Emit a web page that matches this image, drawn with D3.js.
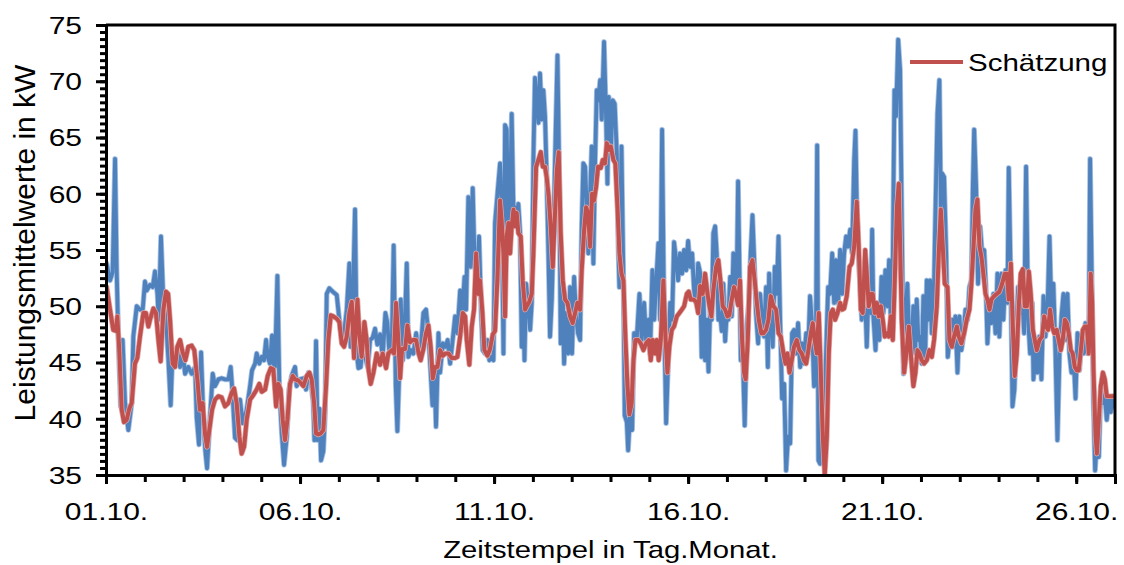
<!DOCTYPE html>
<html>
<head>
<meta charset="utf-8">
<script src="https://cdn.jsdelivr.net/npm/d3@7"></script>
<style>
  body { margin: 0; background: #fff; }
  text { font-family: "Liberation Sans", Arial, sans-serif; fill: #000; }
</style>
</head>
<body>
<div id="chart"></div>
<script>
// Messwerte (Stunden seit 01.10. 00:00, kW)
var measTime = [0.4,2.5,4.1,5.6,6.6,7.6,9.1,10.3,11.8,13.8,15.9,16.9,19.0,21.0,22.7,24.1,25.2,27.2,28.9,30.3,31.8,32.6,34.0,35.5,37.1,38.6,40.0,41.2,42.7,44.1,45.8,47.4,48.9,50.9,53.0,55.1,56.1,57.5,58.8,60.2,61.4,62.5,64.3,66.0,67.4,69.5,71.5,73.6,75.7,77.1,78.1,79.8,81.2,82.9,84.5,87.0,89.1,90.3,92.2,93.2,94.8,96.3,97.7,99.0,100.0,101.4,102.7,103.7,104.5,106.0,107.2,108.7,110.1,111.8,113.2,114.8,116.9,117.9,
  120.0,122.1,123.7,125.2,126.6,128.2,128.9,129.9,130.9,132.0,133.0,134.4,135.5,136.5,138.1,140.2,142.7,144.3,145.8,147.2,148.9,150.5,151.3,152.6,154.0,155.1,156.1,157.5,158.8,160.2,161.9,163.3,164.9,166.4,167.8,169.5,171.1,172.8,174.0,175.3,176.7,177.9,179.2,180.2,181.2,182.3,183.5,184.5,186.0,187.0,188.5,190.1,191.8,193.2,194.6,196.3,197.9,199.4,200.8,201.9,203.1,204.1,205.6,206.6,208.3,209.9,211.3,212.8,214.4,215.9,217.3,219.0,220.4,221.7,222.7,224.1,225.6,226.8,227.8,229.3,230.7,232.0,233.0,234.4,235.9,237.1,238.6,239.6,240.6,242.1,
  243.7,244.7,245.8,246.8,247.8,248.9,249.9,250.9,252.0,253.0,254.0,255.0,256.1,257.1,258.1,258.8,259.8,261.2,262.3,263.3,264.3,265.3,266.4,267.4,268.4,269.5,270.5,271.5,272.6,273.6,274.6,275.7,276.7,277.7,279.2,280.4,281.2,282.5,283.3,284.5,285.8,287.0,288.2,289.5,290.7,291.9,293.2,294.2,295.2,296.3,297.3,298.3,299.4,300.4,301.4,302.5,303.5,304.5,305.6,306.6,308.0,309.3,310.1,310.9,312.2,313.4,314.6,315.9,316.9,317.5,318.8,320.0,320.8,322.1,322.9,324.1,325.4,326.6,328.2,329.9,331.3,332.8,334.0,335.5,336.5,337.9,339.0,340.2,341.6,342.7,343.9,345.1,346.4,347.8,348.9,350.1,351.3,352.6,353.8,355.0,356.3,357.5,358.8,360.0,361.2,362.5,363.7,364.9,366.2,
  367.4,368.4,369.5,370.5,371.5,372.6,373.6,374.6,375.6,376.7,377.7,378.7,379.8,380.8,381.8,382.9,383.9,384.9,386.0,387.0,388.0,389.0,390.1,390.9,391.7,392.6,393.8,395.0,396.3,397.5,398.7,399.8,400.8,402.0,403.3,404.5,405.8,407.0,408.2,409.3,410.1,411.1,412.3,413.6,414.8,415.9,416.9,418.1,419.4,420.6,421.8,423.1,424.3,425.5,426.8,428.0,429.3,430.5,431.7,433.0,434.2,435.4,436.7,437.9,438.9,439.8,440.6,441.6,442.9,444.1,445.3,446.6,447.8,449.1,450.3,451.5,452.8,454.0,455.2,456.5,457.7,458.9,460.2,461.4,462.7,463.5,464.3,465.3,466.4,467.4,468.4,469.5,470.5,471.7,473.0,473.8,474.6,475.9,477.1,478.3,479.6,480.8,482.0,483.3,484.3,485.3,486.6,487.6,488.6,489.9,491.1,
  493.2,494.2,495.6,496.9,498.3,499.3,500.4,501.4,502.4,503.5,504.5,505.5,506.6,507.6,508.6,509.7,510.7,511.7,512.7,514.2,515.4,516.3,517.1,518.3,519.6,520.6,521.6,523.1,524.1,525.3,526.6,527.8,529.0,530.3,531.5,532.8,534.0,535.2,536.1,536.9,538.1,539.3,540.6,541.8,543.1,544.3,545.1,546.4,547.6,548.8,550.1,551.3,552.5,553.8,555.0,556.3,557.5,558.3,559.6,560.6,561.8,562.9,564.1,565.3,566.6,567.8,569.0,570.3,571.5,572.8,573.6,574.8,576.0,577.3,578.5,579.8,581.0,582.2,583.5,584.7,585.9,587.2,588.4,589.7,590.9,592.1,593.4,594.6,595.8,597.1,598.3,599.6,600.8,602.0,603.3,604.5,605.7,607.0,607.8,608.6,609.7,610.7,611.7,612.8,614.0,615.2,616.5,617.7,618.9,620.2,621.4,622.6,624.0];
var measKW = [53.8,52.3,53.0,63.1,53.2,47.3,41.1,47.0,41.4,39.0,41.4,47.3,50.0,49.7,49.7,52.2,51.4,51.9,51.7,53.1,51.1,48.8,56.2,50.3,48.8,45.2,41.2,46.0,44.8,46.0,44.6,46.0,44.0,44.6,44.0,44.6,40.1,37.7,45.9,40.1,37.2,35.6,40.1,44.0,42.9,43.5,43.6,43.5,43.5,44.6,42.6,38.3,38.1,41.7,39.6,40.8,42.9,44.3,44.9,45.8,44.9,45.5,45.2,47.0,45.5,44.9,47.4,44.9,44.6,52.7,42.9,38.7,35.9,38.4,42.6,43.8,44.6,42.9,
  43.5,43.6,42.6,44.1,43.5,41.4,38.1,46.9,38.1,40.9,36.3,37.1,40.5,51.1,51.6,51.3,51.0,48.8,47.0,47.6,49.7,53.8,46.4,50.0,58.6,45.8,44.5,44.6,47.0,45.5,44.6,47.0,47.2,48.0,46.6,47.5,45.5,49.4,48.5,45.8,46.1,55.4,42.9,38.9,43.5,50.6,45.2,47.0,53.8,45.5,46.1,45.8,47.6,45.8,46.1,49.4,49.7,47.6,44.1,41.2,44.3,39.3,47.6,44.1,46.7,46.4,47.0,44.9,47.0,49.1,47.6,51.4,49.4,52.6,49.7,59.7,53.5,60.5,54.7,51.7,56.2,49.7,46.1,45.8,47.0,45.2,45.5,45.2,57.4,60.0,
  62.7,59.1,45.8,66.1,65.7,56.2,59.1,67.1,58.3,58.8,57.1,59.1,56.5,46.4,50.9,45.2,52.0,50.0,47.9,50.3,63.0,70.3,68.3,66.3,70.7,66.6,69.2,66.9,61.2,54.7,47.3,50.6,56.2,63.0,72.3,60.6,46.7,51.1,44.9,49.4,45.8,51.7,45.8,52.6,49.1,47.6,47.0,57.1,62.7,62.4,58.8,54.7,60.0,64.2,53.8,63.0,69.2,68.3,70.1,66.6,73.5,66.6,60.9,68.6,63.6,68.3,68.0,63.6,55.0,51.7,64.2,52.3,40.3,39.7,37.2,40.5,39.0,47.6,47.0,51.1,47.0,50.3,47.0,48.8,45.8,53.2,48.8,52.0,55.6,48.8,65.7,49.7,39.6,45.8,50.3,48.8,55.7,54.1,52.3,54.7,52.9,55.0,53.2,55.8,53.5,54.7,51.4,50.3,53.8,
  53.0,45.5,51.1,45.2,48.8,44.2,49.7,48.8,56.5,57.1,54.7,48.8,49.4,47.8,52.0,46.9,49.4,48.8,52.6,49.1,54.7,51.1,52.3,61.1,53.8,45.2,45.8,39.4,48.2,50.3,54.7,58.1,54.4,49.4,46.7,51.1,48.8,47.3,51.7,44.6,52.9,49.4,46.4,53.5,51.1,56.2,48.8,41.8,43.1,35.4,38.4,37.8,47.6,47.9,45.8,48.5,44.6,46.7,44.9,47.6,45.8,50.9,48.2,42.9,43.2,64.3,36.3,36.0,40.0,39.7,45.8,51.7,51.1,54.7,50.3,54.1,50.3,55.0,51.1,54.7,56.2,55.3,56.8,54.7,63.0,65.6,59.1,54.7,51.7,48.8,52.9,50.6,46.4,52.3,49.4,56.8,49.1,46.1,50.3,47.0,52.6,49.4,53.2,50.0,54.1,48.8,54.1,69.2,66.9,73.7,71.0,
  44.0,48.8,52.0,45.8,47.0,50.0,45.8,50.6,47.0,47.3,44.9,50.9,45.2,52.3,48.8,52.3,47.6,48.8,56.5,67.1,70.1,58.8,61.8,61.5,54.7,45.5,47.0,48.8,46.4,49.1,44.1,49.1,46.1,47.3,49.7,48.8,51.7,52.3,60.6,65.7,60.6,52.0,57.1,54.7,55.0,51.1,46.7,50.3,48.5,51.1,47.6,52.9,47.3,52.9,48.8,53.2,50.3,62.3,51.7,41.1,42.6,47.3,51.7,49.4,51.1,47.6,62.4,48.8,45.8,50.3,43.5,47.0,44.1,47.3,43.5,50.9,47.3,49.4,56.2,49.4,52.0,45.8,38.1,45.8,49.1,51.1,47.0,51.1,45.8,44.1,45.8,41.8,47.6,44.3,47.6,45.8,48.5,45.8,47.0,63.1,51.7,41.4,35.4,38.1,36.6,42.9,41.4,42.0,39.9,41.8,40.6,42.0,41.0];

// Schätzung
var estTime = [0.4,2.5,4.5,6.2,7.0,8.2,9.7,11.1,12.8,14.4,15.9,17.9,19.4,21.0,23.1,24.7,26.2,27.2,29.3,30.9,32.4,33.8,35.5,37.1,38.4,39.6,41.2,42.7,44.1,45.8,47.4,49.1,50.9,53.0,54.6,56.5,58.1,59.8,61.2,62.5,63.9,65.6,67.4,69.5,71.5,73.6,75.7,77.7,79.2,80.8,82.5,83.9,85.4,87.0,89.1,91.1,93.2,94.8,96.3,98.4,100.0,101.9,103.5,105.2,106.6,108.0,109.3,110.7,112.2,113.8,115.5,116.9,119.0,
  122.1,124.1,125.8,127.2,128.7,129.9,131.3,132.8,134.4,136.1,137.5,139.0,140.6,142.7,144.3,145.8,147.2,148.9,150.5,152.0,153.4,154.6,155.5,156.7,158.1,159.8,161.2,162.3,163.7,165.4,167.4,169.5,171.1,173.2,174.6,176.7,178.1,179.4,180.8,181.9,183.1,185.0,186.4,188.0,189.7,191.8,193.2,194.6,196.3,197.9,199.4,200.8,202.1,203.5,205.0,206.6,208.3,209.9,211.8,213.8,215.9,217.3,219.0,220.6,222.1,223.1,224.7,226.2,227.6,228.9,230.3,231.3,232.8,234.0,235.9,237.5,239.2,240.6,242.1,
  243.7,244.7,245.8,246.8,247.8,248.9,249.9,250.9,252.0,253.0,254.0,255.0,256.5,257.7,259.2,260.2,261.8,263.3,264.3,266.0,267.4,268.9,270.1,271.5,272.6,273.8,275.0,276.3,277.5,278.8,280.0,281.2,282.5,283.9,285.4,287.0,288.6,290.1,291.5,293.2,294.2,295.7,296.9,298.1,299.4,300.6,301.8,303.1,304.3,306.0,307.2,308.6,309.7,310.9,312.2,313.8,315.0,316.3,317.5,318.8,320.0,321.2,322.5,323.7,325.1,326.2,327.4,329.1,330.7,332.4,334.0,335.7,336.9,338.1,339.4,340.6,341.8,343.1,344.7,346.0,347.2,348.4,349.9,351.3,353.0,354.6,356.1,357.5,359.2,360.4,361.6,363.3,364.9,366.2,
  367.4,369.0,370.5,372.0,373.2,374.4,375.6,377.3,378.7,380.2,381.4,382.9,384.3,385.5,387.0,388.4,389.7,390.9,392.1,393.4,394.6,395.6,396.9,398.3,399.8,401.2,402.5,403.7,405.3,406.6,408.2,409.7,411.1,412.8,414.4,415.9,417.3,419.0,420.2,421.4,422.7,424.1,425.5,427.2,428.8,430.3,431.7,433.0,434.4,435.9,437.1,438.3,439.6,440.8,442.0,443.3,444.5,445.8,447.0,448.2,449.5,450.9,452.4,454.0,455.2,456.5,458.1,459.8,461.2,462.7,464.3,465.5,466.8,468.0,469.5,470.5,471.7,473.0,474.2,475.4,476.7,477.9,479.2,480.4,481.6,482.9,484.1,485.3,486.6,487.8,489.1,490.3,
  492.1,493.6,495.2,496.5,497.7,499.3,500.6,501.8,503.1,504.5,505.9,507.6,509.2,510.7,512.1,513.8,515.0,516.3,517.5,518.7,520.4,521.6,523.1,524.5,526.2,527.4,529.0,530.7,532.3,534.0,535.2,536.5,537.7,538.9,540.2,541.4,542.6,543.9,545.1,546.4,547.6,549.2,550.9,552.5,554.2,555.8,557.1,558.3,559.6,560.8,562.0,563.3,564.5,565.7,567.0,568.2,569.5,570.7,571.9,573.2,574.4,575.6,577.3,578.9,580.2,581.4,582.6,583.9,585.1,586.4,588.0,589.2,590.5,591.7,593.0,594.2,595.4,596.7,597.9,599.1,600.4,601.6,602.9,604.1,605.3,606.6,607.8,609.0,609.9,610.7,612.0,612.8,614.0,615.2,616.5,617.7,618.9,620.2,621.4,624.0];
var estKW = [51.7,49.7,47.9,47.8,49.1,46.1,40.8,39.7,39.9,40.9,41.4,44.9,45.4,47.3,49.4,49.4,48.2,48.8,49.8,49.4,47.0,45.1,49.7,51.3,51.1,48.8,44.9,44.6,46.4,47.0,45.9,45.2,46.4,46.5,46.1,43.5,40.8,41.4,38.7,37.5,39.0,40.8,41.7,42.0,41.9,41.1,41.4,42.3,42.7,41.4,38.4,36.9,37.5,39.9,41.7,42.1,42.6,43.1,42.4,42.6,43.8,44.5,44.4,41.1,43.1,42.6,39.9,38.1,39.9,43.1,43.8,43.5,43.4,
  42.9,43.8,44.1,43.5,41.4,38.7,38.6,38.7,39.0,42.9,47.0,49.2,49.1,48.9,48.6,46.7,46.4,47.3,49.4,50.4,45.4,48.5,50.6,47.5,45.5,48.6,47.0,44.4,43.1,44.1,45.8,44.8,45.8,44.5,45.8,46.1,45.8,50.3,47.0,43.6,46.2,46.2,48.3,46.8,47.0,47.0,45.9,45.2,46.2,47.6,48.3,46.4,43.6,44.6,44.6,46.1,45.6,45.8,45.8,45.4,45.4,45.5,47.3,49.4,49.1,47.0,44.8,48.2,49.7,54.7,51.1,52.3,49.4,46.1,45.6,46.2,47.5,47.8,52.6,
  59.4,57.6,54.7,49.1,56.2,57.4,54.7,57.1,58.6,57.1,58.3,56.5,56.2,52.3,49.7,50.0,50.4,51.1,54.7,62.4,63.0,63.7,62.4,62.4,61.4,59.7,57.1,53.5,57.6,62.1,63.7,56.5,52.3,50.6,50.3,49.1,48.5,49.4,50.3,49.7,53.2,56.8,58.8,58.3,55.3,60.0,59.4,60.6,62.4,62.3,63.0,62.7,64.5,63.9,64.2,63.0,62.7,58.8,54.7,52.9,52.3,47.3,42.9,40.4,41.4,45.2,47.0,47.0,46.7,46.1,46.7,47.0,45.2,47.0,45.8,47.0,45.2,47.0,52.3,47.3,44.1,46.4,47.9,48.2,49.1,49.4,49.7,50.0,51.1,51.3,50.6,50.6,50.4,49.4,
  51.8,51.1,52.9,51.1,50.0,49.1,51.4,53.5,54.1,52.0,50.0,49.7,49.1,49.2,50.6,51.7,50.9,50.1,52.3,47.0,44.1,43.5,47.0,53.5,54.1,52.3,50.3,48.8,47.6,47.6,47.9,48.8,50.9,50.0,49.7,47.6,47.3,45.8,44.9,45.8,44.1,45.2,46.4,47.0,46.1,45.8,45.2,44.9,46.1,47.6,48.5,47.0,45.8,49.4,44.4,38.4,35.0,38.4,45.8,49.4,49.7,48.8,49.4,50.3,49.7,49.8,50.9,53.5,53.8,55.3,59.3,55.3,49.7,49.4,55.0,52.9,50.0,51.1,51.1,49.4,50.3,49.1,50.0,48.8,47.3,47.6,47.3,49.1,47.0,52.3,58.8,60.9,
  48.8,44.1,46.1,48.2,45.8,42.9,44.1,46.1,45.8,45.2,44.9,45.2,46.1,45.5,47.0,50.0,54.7,58.6,55.3,52.0,51.7,47.0,46.4,47.3,48.2,47.3,46.7,47.6,48.8,49.7,52.0,55.3,58.6,59.5,55.3,54.4,52.9,51.1,50.6,49.7,50.6,50.9,51.1,51.3,52.0,52.9,52.9,50.6,53.8,48.2,43.8,45.8,50.0,52.9,53.3,50.0,50.0,53.1,51.1,47.9,47.0,46.1,47.0,47.3,49.1,48.2,47.9,49.7,48.2,47.6,47.9,47.0,46.1,47.0,48.8,48.5,47.6,46.1,45.8,44.6,44.3,44.3,46.1,47.9,48.2,48.2,45.8,52.9,50.3,44.3,38.4,36.9,39.9,42.9,44.1,43.5,42.0,42.0,42.0,42.0];

// Achsen
var dayTicks = d3.range(0, 27);                // 01.10. .. 27.10.
var dayLabels = ["01.10.", "06.10.", "11.10.", "16.10.", "21.10.", "26.10."];
var yTicks = [35, 40, 45, 50, 55, 60, 65, 70, 75];

var W = 1124, H = 565;
var mLeft = 106, mRight = 1115, mTop = 25, mBottom = 475;

var svg = d3.select("#chart").append("svg")
  .attr("width", W).attr("height", H);

var x = d3.scaleLinear().domain([0, 26 * 24]).range([mLeft, mRight]);
var y = d3.scaleLinear().domain([35, 75]).range([mBottom, mTop]);

svg.append("clipPath").attr("id", "clip")
  .append("rect").attr("x", mLeft).attr("y", mTop - 2)
  .attr("width", mRight - mLeft).attr("height", mBottom - mTop + 2);

var meas = measTime.map(function(t, i) { return {t: t, v: measKW[i]}; });
var est = estTime.map(function(t, i) { return {t: t, v: estKW[i]}; });

var line = d3.line().x(function(d) { return x(d.t); }).y(function(d) { return y(d.v); });

var plot = svg.append("g").attr("clip-path", "url(#clip)");

// leichter Schein um die Linien
plot.append("path").datum(meas).attr("d", line)
  .attr("fill", "none").attr("stroke", "#a9c3e3").attr("stroke-width", 5.5)
  .attr("stroke-linejoin", "round").attr("stroke-linecap", "round");
plot.append("path").datum(meas).attr("d", line)
  .attr("fill", "none").attr("stroke", "#4f81bd").attr("stroke-width", 3.8)
  .attr("stroke-linejoin", "round").attr("stroke-linecap", "round");
plot.append("path").datum(est).attr("d", line)
  .attr("fill", "none").attr("stroke", "#e0aaa9").attr("stroke-width", 5.5)
  .attr("stroke-linejoin", "round").attr("stroke-linecap", "round");
plot.append("path").datum(est).attr("d", line)
  .attr("fill", "none").attr("stroke", "#c0504d").attr("stroke-width", 4)
  .attr("stroke-linejoin", "round").attr("stroke-linecap", "round");

// Rahmen oben und rechts
svg.append("path")
  .attr("d", "M" + mLeft + "," + mTop + "H" + mRight + "V" + mBottom)
  .attr("fill", "none").attr("stroke", "#000").attr("stroke-width", 3);

// x-Achse: kleine Striche je Tag, große alle 5 Tage
var xMinor = svg.append("g").attr("transform", "translate(0," + mBottom + ")")
  .call(d3.axisBottom(x).tickValues(dayTicks.map(function(d) { return d * 24; }))
    .tickSize(7).tickFormat(""));
var xMajor = svg.append("g").attr("transform", "translate(0," + mBottom + ")")
  .call(d3.axisBottom(x).tickValues(dayLabels.map(function(d, i) { return i * 5 * 24; }))
    .tickSize(9).tickFormat(function(d, i) { return dayLabels[i]; }));

// y-Achse
var yMinorVals = d3.range(35, 75.001, 0.625);
var yMinor = svg.append("g").attr("transform", "translate(" + mLeft + ",0)")
  .call(d3.axisLeft(y).tickValues(yMinorVals).tickSize(6).tickFormat(""));
var yMajor = svg.append("g").attr("transform", "translate(" + mLeft + ",0)")
  .call(d3.axisLeft(y).tickValues(yTicks).tickSize(10).tickFormat(d3.format("d")));

svg.selectAll(".domain").attr("stroke", "#000").attr("stroke-width", 3);
svg.selectAll(".tick line").attr("stroke", "#000").attr("stroke-width", 3);

xMajor.selectAll(".tick text")
  .attr("y", 0).attr("dy", 0)
  .attr("font-size", 24)
  .attr("font-family", "Liberation Sans, Arial, sans-serif")
  .attr("transform", "translate(0,45) scale(1.25,1)");

yMajor.selectAll(".tick text")
  .attr("x", 0).attr("dy", "0.35em")
  .attr("font-size", 24)
  .attr("font-family", "Liberation Sans, Arial, sans-serif")
  .attr("transform", "translate(-24,0) scale(1.25,1)");

// Achsentitel
svg.append("text")
  .attr("transform", "translate(" + ((mLeft + mRight) / 2) + ",558) scale(1.22,1)")
  .attr("text-anchor", "middle").attr("font-size", 24)
  .text("Zeitstempel in Tag.Monat.");

svg.append("text")
  .attr("transform", "translate(35," + 243 + ") rotate(-90)")
  .attr("text-anchor", "middle").attr("font-size", 30)
  .text("Leistungsmittelwerte in kW");

// Legende
svg.append("line")
  .attr("x1", 910).attr("x2", 963).attr("y1", 62).attr("y2", 62)
  .attr("stroke", "#c0504d").attr("stroke-width", 4);
svg.append("text")
  .attr("transform", "translate(968,71) scale(1.23,1)")
  .attr("font-size", 24)
  .text("Schätzung");
</script>
</body>
</html>
